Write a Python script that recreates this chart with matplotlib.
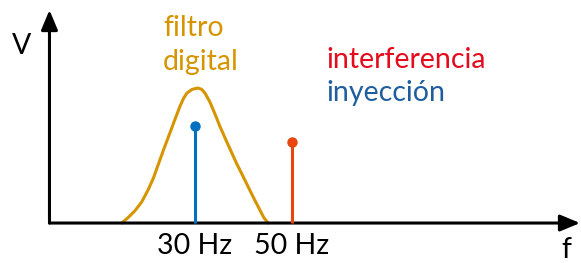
import matplotlib.pyplot as plt

# filter response (frequency in Hz, relative amplitude)
filt_f = [14.9, 16.2, 17.6, 19.0, 20.4, 21.4, 22.4, 23.6, 24.8, 25.9, 26.9, 27.6, 28.3, 29.4,
          30.6, 31.4, 32.1, 33.1, 34.1, 35.1, 36.2, 37.4, 38.6, 40.0, 41.3, 42.4, 43.4, 44.2, 45.1]
filt_v = [0.0, 0.04, 0.09, 0.155, 0.25, 0.33, 0.43, 0.55, 0.664, 0.77, 0.864, 0.92, 0.961, 0.99,
          1.0, 0.99, 0.96, 0.895, 0.81, 0.72, 0.63, 0.535, 0.44, 0.34, 0.244, 0.165, 0.096, 0.04, 0.0]

# spectral lines
inj_f, inj_v = 30, 0.72
intf_f, intf_v = 50, 0.60
tick_f = [30, 50]
tick_labels = ["30 Hz", "50 Hz"]

gold = "#D69500"
blue = "#0070C0"
red_line = "#E8450F"
red_text = "#E30B1C"
blue_text = "#1F5E9E"

plt.rcParams['font.family'] = ['Lato', 'DejaVu Sans']

fig = plt.figure(figsize=(5.81, 2.63), dpi=100)
ax = fig.add_axes([0, 0, 1, 1])
ax.set_xlim(-10.2, 109.6)
ax.set_ylim(-0.296, 1.652)
ax.axis("off")

# axes with arrows
arrow = dict(arrowstyle="-|>,head_length=1.2,head_width=0.5", color="black",
             lw=2.2, shrinkA=0, shrinkB=0)
ax.annotate("", xy=(109.4, 0), xytext=(0, 0), arrowprops=arrow)
ax.annotate("", xy=(0, 1.578), xytext=(0, 0), arrowprops=arrow)

ax.plot(filt_f, filt_v, color=gold, lw=2.2, solid_capstyle="round",
        solid_joinstyle="round", zorder=2)

ax.vlines(inj_f, 0, inj_v, color=blue, lw=2.2, zorder=3)
ax.plot(inj_f, inj_v, "o", color=blue, ms=6.5, zorder=3)
ax.vlines(intf_f, 0, intf_v, color=red_line, lw=2.2, zorder=3)
ax.plot(intf_f, intf_v, "o", color=red_line, ms=6.5, zorder=3)

fs = 20.5
for f, lab in zip(tick_f, tick_labels):
    ax.text(f, -0.17, lab, ha="center", va="center", fontsize=fs)

ax.text(-5.7, 1.31, "V", ha="center", va="center", fontsize=fs)
ax.text(106.5, -0.2, "f", ha="center", va="center", fontsize=fs)

ax.text(23.4, 1.445, "filtro", color=gold, ha="left", va="center", fontsize=fs)
ax.text(23.4, 1.195, "digital", color=gold, ha="left", va="center", fontsize=fs)
ax.text(57.2, 1.205, "interferencia", color=red_text, ha="left", va="center", fontsize=fs)
ax.text(57.2, 0.96, "inyección", color=blue_text, ha="left", va="center", fontsize=fs)

fig.savefig("out.png", dpi=100)
